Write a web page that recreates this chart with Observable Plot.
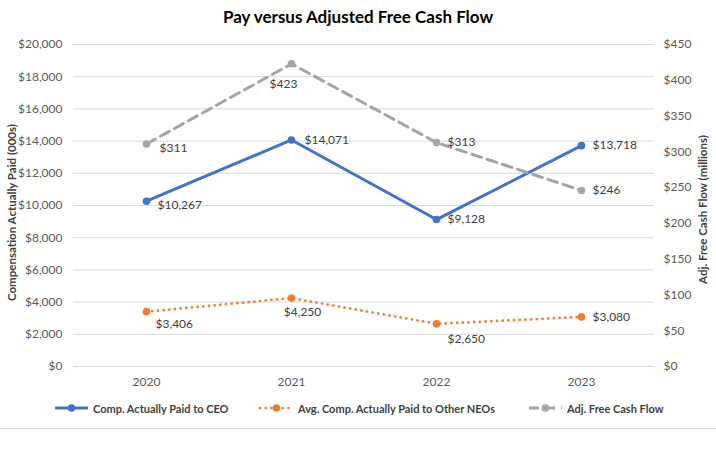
<!DOCTYPE html>
<html><head><meta charset="utf-8">
<script src="https://cdn.jsdelivr.net/npm/d3@7"></script>
<script src="https://cdn.jsdelivr.net/npm/@observablehq/plot@0.6"></script>
<style>
body{margin:0;background:#fff;font-family:Lato,sans-serif;}
#wrap{position:relative;width:716px;height:453px;overflow:hidden;background:#fff}
#title{position:absolute;left:0;top:0;width:716px;height:34px;line-height:34px;text-align:center;font-weight:bold;font-size:17px;color:#000}
#chart{position:absolute;left:0;top:34px}
#legend{position:absolute;left:0;top:398px;width:716px;height:20px}
.item{position:absolute;top:0;height:20px;display:flex;align-items:center;font-weight:bold;font-size:11px;color:#404040;white-space:nowrap}
.item svg{margin-right:3px}
#rule{position:absolute;left:0;top:428px;width:716px;height:1px;background:#d9d9d9}
</style></head><body>
<div id="wrap"><div id="title">Pay versus Adjusted Free Cash Flow</div><div id="chart"></div><div id="legend"></div><div id="rule"></div></div>
<script>
// ---- data ----
const years = ["2020", "2021", "2022", "2023"];
const ceoPay = [10267, 14071, 9128, 13718];          // $000s, left axis
const neoPay = [3406, 4250, 2650, 3080];             // $000s, left axis
const freeCashFlow = [311, 423, 313, 246];           // $ millions, right axis
const leftTicks = [0, 2000, 4000, 6000, 8000, 10000, 12000, 14000, 16000, 18000, 20000];
const rightTicks = [0, 50, 100, 150, 200, 250, 300, 350, 400, 450];
const seriesNames = ["Comp. Actually Paid to CEO", "Avg. Comp. Actually Paid to Other NEOs", "Adj. Free Cash Flow"];
const leftTitle = "Compensation Actually Paid (000s)";
const rightTitle = "Adj. Free Cash Flow (millions)";

// ---- layout / style (not data) ----
const colors = ["#4472C4", "#ED7D31", "#A5A5A5"];
const labelLayout = [
  [[11, 4, "start"], [13, 0, "start"], [11, 0, "start"], [11, 0, "start"]],
  [[9, 12, "start"], [11, 14, "middle"], [11, 15, "start"], [11, 0, "start"]],
  [[13, 4, "start"], [-8, 20, "middle"], [11, 0, "start"], [11, 0, "start"]]
];
const leftMax = leftTicks[leftTicks.length - 1];
const rightMax = rightTicks[rightTicks.length - 1];
const k = leftMax / rightMax; // right-axis value -> left-axis units

const money = d3.format("$,");
const rows = (vals, scale) => years.map((y, i) => ({year: y, v: vals[i] * scale, raw: vals[i]}));
const series = [rows(ceoPay, 1), rows(neoPay, 1), rows(freeCashFlow, k)];
const lineStyles = [
  {strokeWidth: 3},
  {strokeWidth: 2.75, strokeDasharray: "0.1,5.6", strokeLinecap: "round"},
  {strokeWidth: 3, strokeDasharray: "10,6"}
];
const drawOrder = [0, 1, 2];

const marks = [
  Plot.gridY(leftTicks, {stroke: "#d9d9d9", strokeOpacity: 1}),
  Plot.axisY(leftTicks, {anchor: "left", tickSize: 0, tickPadding: 11, tickFormat: money, label: null, fill: "#595959"}),
  Plot.axisY(rightTicks.map(v => v * k), {anchor: "right", tickSize: 0, tickPadding: 9, textAnchor: "start",
    tickFormat: d => money(Math.round(d / k)), label: null, fill: "#595959"}),
  Plot.axisX({tickSize: 0, tickPadding: 11, label: null, fill: "#595959"}),
  Plot.text([leftTitle], {frameAnchor: "left", textAnchor: "middle", rotate: -90, dx: -61, dy: 7, fontWeight: "bold", fontSize: 11.5, fill: "#404040"}),
  Plot.text([rightTitle], {frameAnchor: "right", textAnchor: "middle", rotate: -90, dx: 49, dy: 4, fontWeight: "bold", fontSize: 11.5, fill: "#404040"})
];
for (const s of drawOrder) {
  marks.push(Plot.line(series[s], {x: "year", y: "v", stroke: colors[s], ...lineStyles[s]}));
  marks.push(Plot.dot(series[s], {x: "year", y: "v", fill: colors[s], r: 3.8}));
}
for (const s of drawOrder) {
  series[s].forEach((d, i) => {
    const [dx, dy, anchor] = labelLayout[s][i];
    marks.push(Plot.text([d], {x: "year", y: "v", text: d => money(d.raw), dx, dy, textAnchor: anchor, fill: "#404040", fontSize: 12}));
  });
}

const chart = Plot.plot({
  width: 716, height: 362,
  marginTop: 10, marginBottom: 30, marginLeft: 73, marginRight: 62,
  x: {type: "point", domain: years, padding: 0.5},
  y: {domain: [0, leftMax]},
  style: {fontFamily: "Lato, sans-serif", fontSize: "12px", color: "#595959", background: "transparent"},
  marks
});
document.getElementById("chart").appendChild(chart);

// ---- legend ----
const legendPos = [53, 258, 527];
const legend = document.getElementById("legend");
seriesNames.forEach((name, s) => {
  const item = document.createElement("div");
  item.className = "item";
  item.style.left = legendPos[s] + "px";
  const st = lineStyles[s];
  item.innerHTML = `<svg width="37" height="12"><line x1="2" x2="35" y1="6" y2="6" stroke="${colors[s]}" stroke-width="${st.strokeWidth}"
    ${st.strokeDasharray ? `stroke-dasharray="${st.strokeDasharray}"` : ""} ${st.strokeLinecap ? `stroke-linecap="${st.strokeLinecap}"` : ""}/>
    <circle cx="18.5" cy="6" r="3.8" fill="${colors[s]}"/></svg><span>${name}</span>`;
  legend.appendChild(item);
});
</script>
</body></html>
